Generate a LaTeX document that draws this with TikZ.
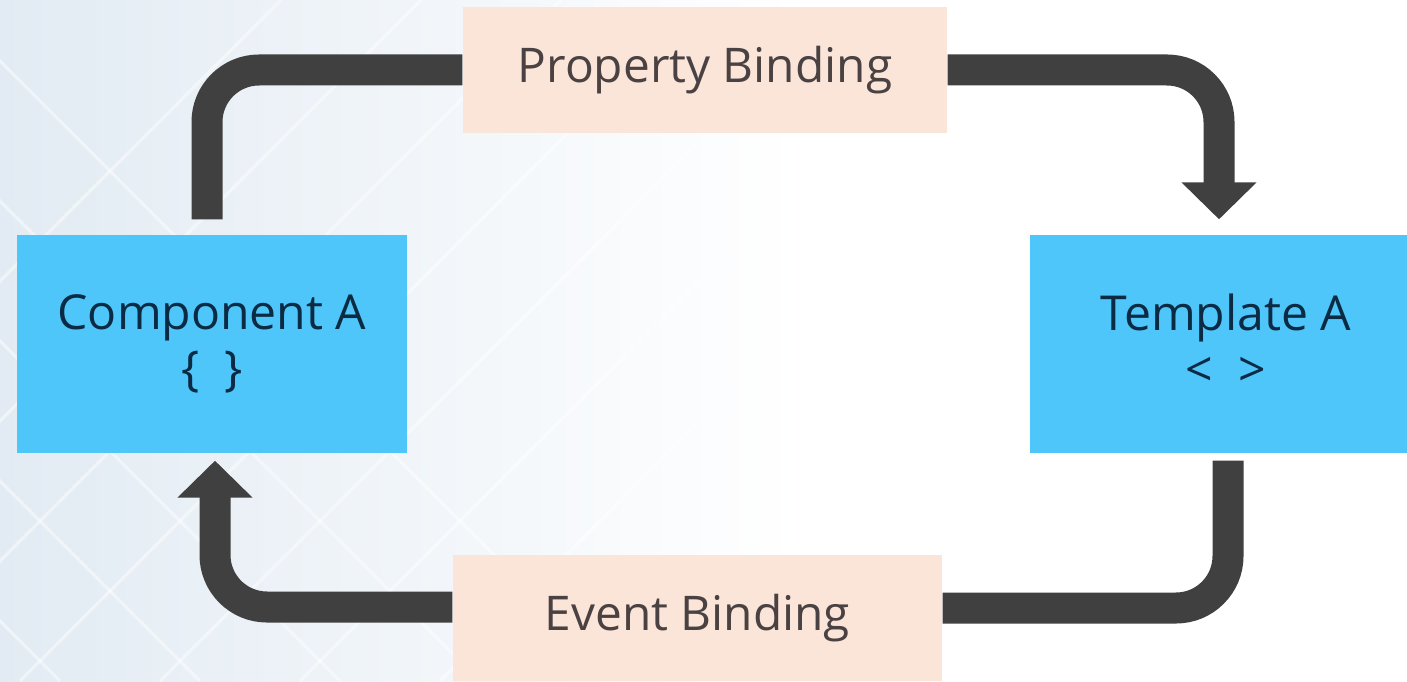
\documentclass[tikz,border=0pt]{standalone}
\usepackage{fontspec}
\setmainfont{Open Sans}
\usepackage{xcolor}
\usetikzlibrary{arrows.meta,positioning}

\definecolor{boxblue}{HTML}{4FC6FA}
\definecolor{peach}{HTML}{FBE4D8}
\definecolor{linkgray}{HTML}{404040}
\definecolor{navy}{HTML}{0B2A44}
\definecolor{labeltext}{HTML}{4A4242}
\definecolor{bgleft}{HTML}{E2EBF3}

\tikzset{
  partbox/.style={fill=boxblue, text=navy, minimum width=3.9cm, minimum height=2.18cm,
    align=center, font=\fontsize{13.7}{16}\selectfont},
  bindbox/.style={fill=peach, text=labeltext, minimum height=1.26cm,
    font=\fontsize{13.6}{16}\selectfont},
  link/.style={draw=linkgray, line width=0.31cm, rounded corners=0.52cm},
  tip/.style={-{Triangle[width=0.73cm,length=0.37cm]}}
}

\begin{document}
\begin{tikzpicture}
    % Frame and background
    \useasboundingbox (0,0) rectangle (14.07,6.81);
    \clip (0,0) rectangle (14.07,6.81);
    \fill[white] (0,0) rectangle (14.07,6.81);
    \fill[left color=bgleft, right color=white] (0,0) rectangle (8,6.81);
    \foreach \s in {-4,-2.6,...,5} {
        \draw[white, line width=1pt, opacity=0.45] (\s,0) -- ++(6.81,6.81);
        \draw[white, line width=1pt, opacity=0.45] (\s+1.8,0) -- ++(-6.81,6.81);
    }

    % Boxes
    \node[partbox] (comp) at (2.12,3.37) {Component A\\\{\ \ \}};
    \node[partbox, minimum width=3.92cm] (tmpl) at (12.26,3.37) {Template A\\<\ \ >\vphantom{\{\}}};
    \node[bindbox, minimum width=4.84cm] (prop) at (7.05,6.11) {Property Binding};
    \node[bindbox, minimum width=4.89cm] (evnt) at (6.975,0.63) {Event Binding};

    % Property binding: component -> template
    \draw[link] ([shift={(-0.05,0.15)}]comp.north) |- (prop.west);
    \draw[link, tip] (prop.east) -| ([shift={(-0.07,0.15)}]tmpl.north);

    % Event binding: template -> component
    \draw[link] ([shift={(0.02,-0.07)}]tmpl.south) |- ([yshift=0.1cm]evnt.east);
    \draw[link, tip] ([yshift=0.11cm]evnt.west) -| ([shift={(0.03,-0.07)}]comp.south);
\end{tikzpicture}
\end{document}
